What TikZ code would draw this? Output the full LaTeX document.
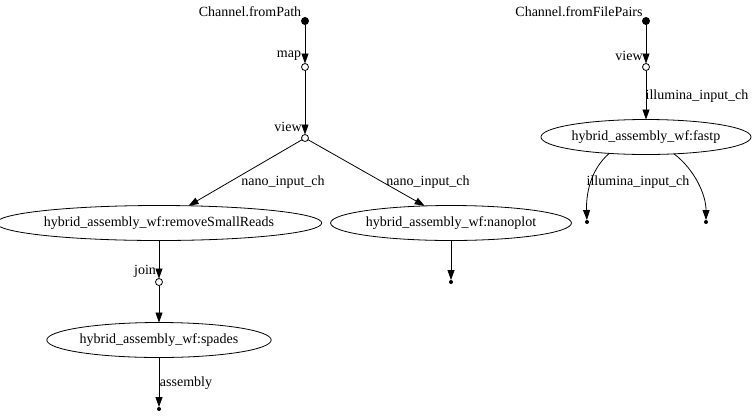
\documentclass[tikz,border=0pt]{standalone}
\usepackage{fontspec}
\setmainfont{Liberation Serif}
\usetikzlibrary{shapes.geometric,arrows.meta}
\begin{document}
\begin{tikzpicture}[x=1pt,y=-1pt,
  font=\fontsize{14}{16}\selectfont,
  proc/.style={ellipse, draw, line width=0.8pt, inner sep=0pt, outer sep=0pt, minimum height=35pt},
  src/.style={circle, fill, inner sep=0pt, outer sep=0pt, minimum size=8pt},
  op/.style={circle, draw, fill=white, inner sep=0pt, outer sep=0pt, minimum size=7pt, line width=0.8pt},
  sink/.style={circle, fill, inner sep=0pt, outer sep=0pt, minimum size=4pt},
  lbl/.style={inner sep=0pt},
  arr/.style={-{Triangle[length=10pt,width=7pt]}, line width=0.8pt}]
\useasboundingbox (0,0) rectangle (754,416);
% left graph
\node[src] (src1) at (305,21) {};
\node[lbl] (lsrc1) at (250,12) {Channel.fromPath};
\node[op] (map1) at (305,67) {};
\node[lbl] (lmap1) at (289,56) {map};
\node[op] (view1) at (305,138) {};
\node[lbl] (lview1) at (288,127) {view};
\node[proc, minimum width=311pt] (rsr) at (159,223) {hybrid\_assembly\_wf:removeSmallReads};
\node[proc, minimum width=237pt] (nano) at (451,223) {hybrid\_assembly\_wf:nanoplot};
\node[lbl] (lnano1) at (283,182) {nano\_input\_ch};
\node[lbl] (lnano2) at (428,182) {nano\_input\_ch};
\node[sink] (out2) at (451,282) {};
\node[op] (join) at (159,282) {};
\node[lbl] (ljoin) at (145,271) {join};
\node[proc, minimum width=220pt] (spades) at (159,340) {hybrid\_assembly\_wf:spades};
\node[lbl] (lasm) at (186,383) {assembly};
\node[sink] (out1) at (159,409) {};
% right graph
\node[src] (src2) at (646,21) {};
\node[lbl] (lsrc2) at (579,12) {Channel.fromFilePairs};
\node[op] (view2) at (646,67) {};
\node[lbl] (lview2) at (629,56) {view};
\node[lbl] (lill1) at (697,96) {illumina\_input\_ch};
\node[proc, minimum width=207pt] (fastp) at (646,137) {hybrid\_assembly\_wf:fastp};
\node[lbl] (lill2) at (638,182) {illumina\_input\_ch};
\node[sink] (out3) at (587,222) {};
\node[sink] (out4) at (706,222) {};
% edges
\draw[arr] (src1) -- (map1);
\draw[arr] (map1) -- (view1);
\draw[arr] (view1) -- (rsr);
\draw[arr] (view1) -- (nano.147);
\draw[arr] (rsr) -- (join);
\draw[arr] (join) -- (spades);
\draw[arr] (spades) -- (out1);
\draw[arr] (nano) -- (out2);
\draw[arr] (src2) -- (view2);
\draw[arr] (view2) -- (fastp);
\draw[arr] (fastp.204) .. controls (590,170) and (586,195) .. (out3);
\draw[arr] (fastp.329) .. controls (695,170) and (706,195) .. (out4);
\end{tikzpicture}
\end{document}
